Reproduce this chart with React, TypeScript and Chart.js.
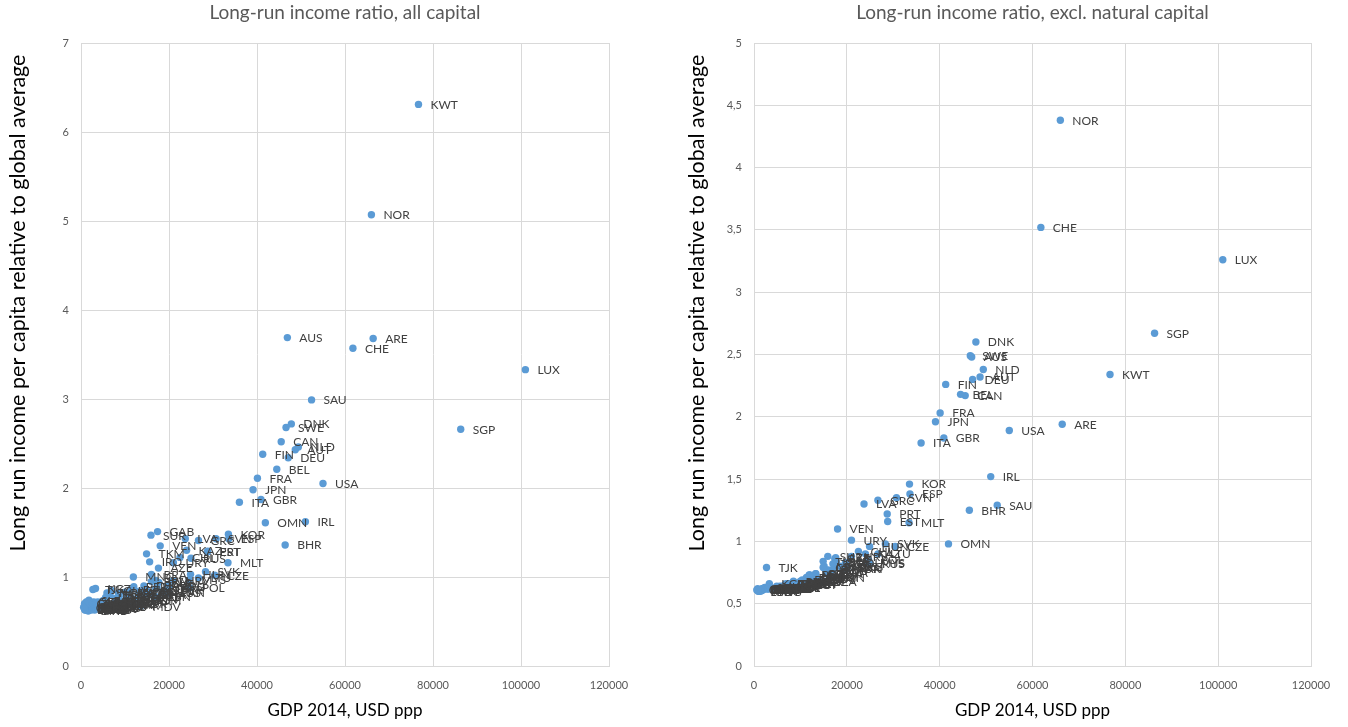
import React, { useEffect, useRef } from "react";
import { Chart, registerables } from "chart.js";

Chart.register(...registerables);

// ---------- data ----------
const countries = [
  "KWT","NOR","AUS","ARE","CHE","LUX","SGP","SAU","DNK","SWE","CAN","NLD","AUT","FIN","DEU","BEL","FRA","USA","JPN","GBR",
  "ITA","OMN","IRL","BHR","KOR","ESP","SVN","GRC","LVA","PRT","EST","MLT","KAZ","CHL","RUS","VEN","URY","GAB","SUR","TKM",
  "IRQ","AZE","BRA","MNG","HUN","SVK","CZE","LTU","POL","HRV","MYS","TUR","ARG","ROU","BLR","MEX","BGR","PAN","MUS","IRN",
  "LBN","BWA","THA","MNE","CRI","DZA","MDV","COL","SRB","DOM","CHN","ZAF","MKD","PER","JOR","TUN","ALB","ECU","LKA","EGY",
  "IDN","BIH","NAM","GEO","UKR","JAM","FJI","SWZ","PRY","SLV","ARM","BTN","MAR","GTM","GUY","PHL","BOL","NGA","IND","UZB",
  "VNM","LAO","MMR","MDA","NIC","HND","PAK","SDN","GHA","ZMB","YEM","MRT","KGZ","KHM","CIV","BGD","CMR","KEN","LSO","TJK",
  "TZA","SEN","NPL","BEN","MLI","SLE","ZWE","UGA","RWA","HTI","BFA","GMB","ETH","MDG","TGO","GIN","MOZ","MWI","NER","LBR",
  "COD","BDI","CAF"
];

const gdp2014 = [
  76700,66000,46900,66400,61800,101000,86300,52400,47800,46600,45500,49400,48700,41300,47100,44500,40100,55000,39100,40900,
  36000,41900,51000,46400,33500,33600,30700,26700,23700,28700,28800,33400,24000,22500,25000,18000,21000,17400,15900,14900,
  15600,17600,16000,11900,24900,28300,30400,26700,24700,21000,24600,19600,20000,19700,17700,17300,17000,20000,18500,17000,
  17000,16000,15600,15100,14900,14300,13500,13300,13300,13300,13200,13000,13000,12000,11800,11400,11300,11300,11000,10500,
  10500,10400,10000,8800,8700,8600,8600,8500,8500,8300,8100,7800,7500,7400,6900,6800,6600,5900,5700,5600,
  5600,5200,4900,4900,4900,4800,4800,4200,4100,3800,3800,3800,3300,3300,3200,3100,2900,2900,2700,2700,
  2500,2300,2300,2000,1900,1800,1800,1700,1700,1700,1600,1600,1500,1400,1400,1200,1100,1100,1000,900,
  800,800,600
];

const ratioAllCapital = [
  6.31,5.07,3.69,3.68,3.57,3.33,2.66,2.99,2.72,2.68,2.52,2.46,2.43,2.38,2.34,2.21,2.11,2.05,1.98,1.87,
  1.84,1.61,1.62,1.36,1.48,1.43,1.43,1.41,1.43,1.28,1.29,1.16,1.30,1.22,1.21,1.35,1.16,1.51,1.47,1.26,
  1.17,1.10,1.03,1.00,1.03,1.06,1.02,0.99,0.88,0.96,0.97,0.86,0.89,0.90,0.94,0.88,0.87,0.82,0.82,0.96,
  0.78,0.95,0.80,0.84,0.81,0.90,0.67,0.84,0.80,0.74,0.76,0.81,0.78,0.89,0.70,0.75,0.77,0.86,0.72,0.73,
  0.80,0.74,0.83,0.70,0.78,0.68,0.72,0.74,0.82,0.68,0.70,0.76,0.69,0.70,0.85,0.67,0.80,0.82,0.66,0.77,
  0.70,0.74,0.73,0.68,0.70,0.66,0.64,0.66,0.67,0.72,0.66,0.70,0.87,0.64,0.69,0.63,0.72,0.65,0.66,0.86,
  0.68,0.65,0.63,0.64,0.67,0.74,0.70,0.66,0.64,0.62,0.67,0.62,0.64,0.65,0.64,0.72,0.66,0.63,0.68,0.63,
  0.70,0.64,0.66
];

const ratioExclNatural = [
  2.34,4.38,2.48,1.94,3.52,3.26,2.67,1.29,2.60,2.49,2.17,2.38,2.32,2.26,2.30,2.18,2.03,1.89,1.96,1.83,
  1.79,0.98,1.52,1.25,1.46,1.38,1.35,1.33,1.30,1.22,1.16,1.15,0.90,0.92,0.82,1.10,1.01,0.86,0.88,0.84,
  0.76,0.87,0.77,0.73,0.96,0.98,0.96,0.90,0.85,0.88,0.83,0.78,0.80,0.83,0.84,0.79,0.82,0.78,0.80,0.71,
  0.77,0.75,0.74,0.80,0.79,0.68,0.70,0.74,0.74,0.72,0.70,0.70,0.72,0.73,0.68,0.69,0.70,0.71,0.68,0.65,
  0.66,0.69,0.68,0.66,0.66,0.66,0.67,0.66,0.68,0.66,0.65,0.66,0.65,0.66,0.66,0.63,0.65,0.63,0.62,0.64,
  0.63,0.63,0.64,0.63,0.63,0.63,0.62,0.62,0.62,0.62,0.62,0.62,0.66,0.62,0.63,0.62,0.62,0.62,0.63,0.79,
  0.62,0.63,0.62,0.62,0.61,0.62,0.62,0.61,0.61,0.61,0.61,0.61,0.61,0.60,0.61,0.61,0.61,0.60,0.61,0.60,
  0.62,0.61,0.61
];

const xTickValues = [0, 20000, 40000, 60000, 80000, 100000, 120000];
const leftTitle = "Long-run income ratio, all capital";
const rightTitle = "Long-run income ratio, excl. natural capital";
const yAxisTitle = "Long run income per capita relative to global average";
const xAxisTitle = "GDP 2014, USD ppp";

// ---------- styling ----------
const FONT = "Lato, 'Open Sans', sans-serif";
const DOT = "#5B9BD5";
const GRID = "#D9D9D9";
const TICK_COLOR = "#595959";
const LABEL_COLOR = "#404040";

type Cfg = {
  canvasWidth: number;
  plotLeft: number;
  plotRight: number;
  yMax: number;
  yStep: number;
  values: number[];
  title: string;
  comma: boolean;
};

function buildChart(canvas: HTMLCanvasElement, cfg: Cfg) {
  const PLOT_TOP = 43;
  const PLOT_BOTTOM = 666;
  const H = 727;
  const points = gdp2014.map((g, i) => ({ x: g, y: cfg.values[i] }));

  const decor = {
    id: "decor",
    afterDatasetsDraw(chart: any) {
      const ctx = chart.ctx;
      const meta = chart.getDatasetMeta(0);
      ctx.save();
      ctx.font = `12px ${FONT}`;
      ctx.fillStyle = LABEL_COLOR;
      ctx.textAlign = "left";
      ctx.textBaseline = "middle";
      meta.data.forEach((el: any, i: number) => {
        ctx.fillText(countries[i], el.x + 12, el.y + 0.5);
      });
      ctx.restore();
    },
    afterDraw(chart: any) {
      const ctx = chart.ctx;
      const ca = chart.chartArea;
      const cx = (ca.left + ca.right) / 2;
      ctx.save();
      ctx.textAlign = "center";
      ctx.textBaseline = "middle";
      ctx.fillStyle = TICK_COLOR;
      ctx.font = `19px ${FONT}`;
      ctx.fillText(cfg.title, cx, 13);
      ctx.fillStyle = "#000000";
      ctx.font = `17px ${FONT}`;
      ctx.fillText(xAxisTitle, cx, 711);
      ctx.font = `21.5px ${FONT}`;
      ctx.translate(18.5, 303);
      ctx.rotate(-Math.PI / 2);
      ctx.fillText(yAxisTitle, 0, 0);
      ctx.restore();
    },
  };

  return new Chart(canvas, {
    type: "scatter",
    data: {
      datasets: [
        {
          data: points,
          backgroundColor: DOT,
          borderColor: DOT,
          pointRadius: 3.7,
          pointHoverRadius: 3.7,
          borderWidth: 0,
          clip: false as any,
        },
      ],
    },
    options: {
      animation: false,
      responsive: false,
      devicePixelRatio: 1,
      layout: {
        padding: { top: PLOT_TOP, left: 0, bottom: 0, right: cfg.canvasWidth - cfg.plotRight },
      },
      plugins: {
        legend: { display: false },
        title: { display: false },
        tooltip: { enabled: false },
      },
      scales: {
        x: {
          type: "linear",
          min: 0,
          max: 120000,
          afterFit: (s: any) => {
            s.height = H - PLOT_BOTTOM;
          },
          afterBuildTicks: (s: any) => {
            s.ticks = xTickValues.map((v) => ({ value: v }));
          },
          grid: { color: GRID, lineWidth: 1, drawTicks: false },
          border: { color: GRID, width: 1 },
          ticks: {
            padding: 13,
            color: TICK_COLOR,
            font: { family: FONT, size: 11 },
            maxRotation: 0,
            autoSkip: false,
            callback: (v: any) => String(v),
          },
        },
        y: {
          type: "linear",
          min: 0,
          max: cfg.yMax,
          afterFit: (s: any) => {
            s.width = cfg.plotLeft;
          },
          grid: { color: GRID, lineWidth: 1, drawTicks: false },
          border: { color: GRID, width: 1 },
          ticks: {
            stepSize: cfg.yStep,
            padding: 12,
            color: TICK_COLOR,
            font: { family: FONT, size: 11 },
            callback: (v: any) => {
              const s = String(Math.round(Number(v) * 10) / 10);
              return cfg.comma ? s.replace(".", ",") : s;
            },
          },
        },
      },
    },
    plugins: [decor],
  } as any);
}

export default function App() {
  const leftRef = useRef<HTMLCanvasElement>(null);
  const rightRef = useRef<HTMLCanvasElement>(null);

  useEffect(() => {
    const a = buildChart(leftRef.current!, {
      canvasWidth: 679,
      plotLeft: 81,
      plotRight: 609,
      yMax: 7,
      yStep: 1,
      values: ratioAllCapital,
      title: leftTitle,
      comma: false,
    });
    const b = buildChart(rightRef.current!, {
      canvasWidth: 669,
      plotLeft: 75,
      plotRight: 632,
      yMax: 5,
      yStep: 0.5,
      values: ratioExclNatural,
      title: rightTitle,
      comma: true,
    });
    return () => {
      a.destroy();
      b.destroy();
    };
  }, []);

  return (
    <div style={{ position: "fixed", left: 0, top: 0, width: 1348, height: 727, background: "#fff" }}>
      <canvas
        ref={leftRef}
        width={679}
        height={727}
        style={{ position: "absolute", left: 0, top: 0, width: 679, height: 727 }}
      />
      <canvas
        ref={rightRef}
        width={669}
        height={727}
        style={{ position: "absolute", left: 679, top: 0, width: 669, height: 727 }}
      />
    </div>
  );
}
